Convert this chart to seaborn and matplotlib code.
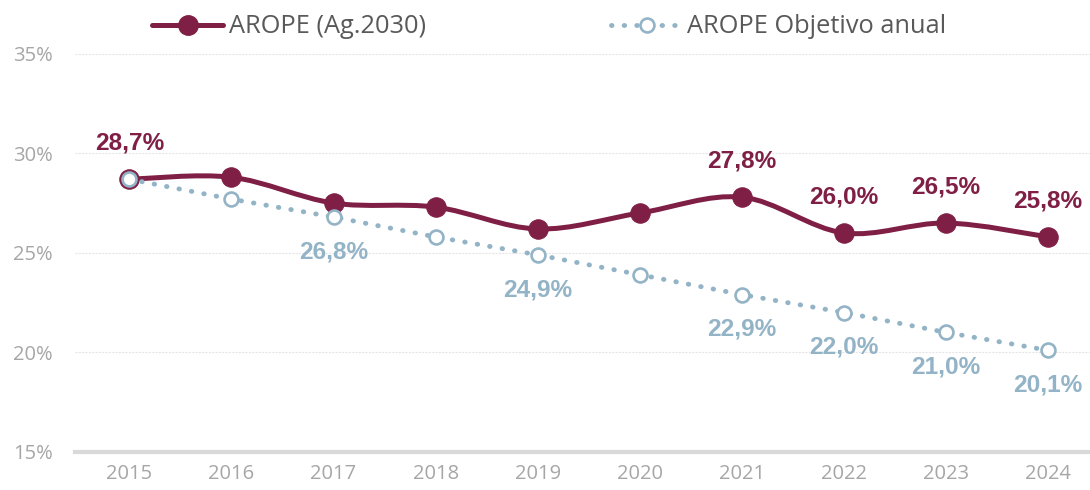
import numpy as np
import pandas as pd
import seaborn as sns
import matplotlib.pyplot as plt
from matplotlib.path import Path
from matplotlib.patches import PathPatch
from matplotlib.lines import Line2D

# data
years = [2015, 2016, 2017, 2018, 2019, 2020, 2021, 2022, 2023, 2024]
arope = [28.7, 28.8, 27.5, 27.3, 26.2, 27.0, 27.8, 26.0, 26.5, 25.8]
objetivo = [28.7, 27.7, 26.8, 25.8, 24.9, 23.9, 22.9, 22.0, 21.0, 20.1]
arope_label_years = [2015, 2021, 2022, 2023, 2024]
obj_label_years = [2017, 2019, 2021, 2022, 2023, 2024]
y_ticks = [15, 20, 25, 30, 35]

RED = '#7f1f45'
BLUE = '#93b3c6'
GREY = '#a6a6a6'

sns.set_theme(style='white')
plt.rcParams['font.family'] = ['Open Sans', 'DejaVu Sans']

df = pd.DataFrame({'year': years, 'arope': arope, 'objetivo': objetivo})


# smoothed line like Excel does it: bezier segments between the points
def smooth_path(xs, ys):
    xs = np.asarray(xs, float)
    ys = np.asarray(ys, float)
    n = len(xs)
    verts = [(xs[0], ys[0])]
    codes = [Path.MOVETO]
    for i in range(n - 1):
        p0 = (xs[max(i - 1, 0)], ys[max(i - 1, 0)])
        p1 = (xs[i], ys[i])
        p2 = (xs[i + 1], ys[i + 1])
        p3 = (xs[min(i + 2, n - 1)], ys[min(i + 2, n - 1)])
        c1 = (p1[0] + (p2[0] - p0[0]) / 6, p1[1] + (p2[1] - p0[1]) / 6)
        c2 = (p2[0] - (p3[0] - p1[0]) / 6, p2[1] - (p3[1] - p1[1]) / 6)
        verts += [c1, c2, p2]
        codes += [Path.CURVE4] * 3
    return Path(verts, codes)


fig, ax = plt.subplots(figsize=(10.9, 4.9), dpi=100)
fig.subplots_adjust(left=0.069, right=1.0, bottom=0.078, top=0.89)

# AROPE line + markers
ax.add_patch(PathPatch(smooth_path(df['year'], df['arope']), fill=False,
                       edgecolor=RED, lw=3.6, capstyle='round', zorder=3))
sns.lineplot(data=df, x='year', y='arope', ax=ax, linestyle='', marker='o',
             markersize=14, color=RED, markeredgecolor=RED, zorder=4)

# objetivo dotted line with hollow markers
sns.lineplot(data=df, x='year', y='objetivo', ax=ax, color=BLUE, lw=3.5,
             linestyle=(0, (0.1, 2.5)), dash_capstyle='round', zorder=5)
sns.lineplot(data=df, x='year', y='objetivo', ax=ax, linestyle='', marker='o',
             markersize=10, markerfacecolor='white', markeredgecolor=BLUE,
             markeredgewidth=1.9, zorder=6)

for y, v in zip(years, arope):
    if y in arope_label_years:
        ax.annotate(f'{v:.1f}%'.replace('.', ','), (y, v), xytext=(0, 26),
                    textcoords='offset points', ha='center', va='center',
                    fontsize=17.6, fontweight='bold', color=RED,
                    family='Liberation Sans')
for y, v in zip(years, objetivo):
    if y in obj_label_years:
        ax.annotate(f'{v:.1f}%'.replace('.', ','), (y, v), xytext=(0, -25),
                    textcoords='offset points', ha='center', va='center',
                    fontsize=17.6, fontweight='bold', color=BLUE,
                    family='Liberation Sans')

ax.set_xlim(2014.47, 2024.41)
ax.set_ylim(15, 35)
ax.set_xticks(years)
ax.set_xticklabels([str(y) for y in years])
ax.set_yticks(y_ticks)
ax.set_yticklabels([f'{t}%' for t in y_ticks])
ax.tick_params(axis='both', colors=GREY, labelsize=14.5, length=0)
ax.tick_params(axis='x', pad=9)
ax.tick_params(axis='y', pad=16)
ax.set_xlabel('')
ax.set_ylabel('')

for t in y_ticks[1:]:
    ax.axhline(t, color='#e6e6e6', lw=0.8, ls=(0, (2, 1)), zorder=1)
for s in ['top', 'right', 'left']:
    ax.spines[s].set_visible(False)
ax.spines['bottom'].set_color('#d9d9d9')
ax.spines['bottom'].set_linewidth(3)

handles = [
    Line2D([], [], color=RED, lw=3.6, marker='o', markersize=14),
    Line2D([], [], color=BLUE, lw=3.5, ls=(0, (0.1, 2.5)), dash_capstyle='round',
           marker='o', markersize=10, markerfacecolor='white',
           markeredgecolor=BLUE, markeredgewidth=1.9),
]
leg = fig.legend(handles, ['AROPE (Ag.2030)', 'AROPE Objetivo anual'],
                 loc='center', bbox_to_anchor=(0.504, 0.945), ncol=2,
                 frameon=False, fontsize=18.3, handlelength=2.8,
                 handletextpad=0.2, columnspacing=7.3)
for t in leg.get_texts():
    t.set_color('#595959')

fig.savefig('out.png', dpi=100)
